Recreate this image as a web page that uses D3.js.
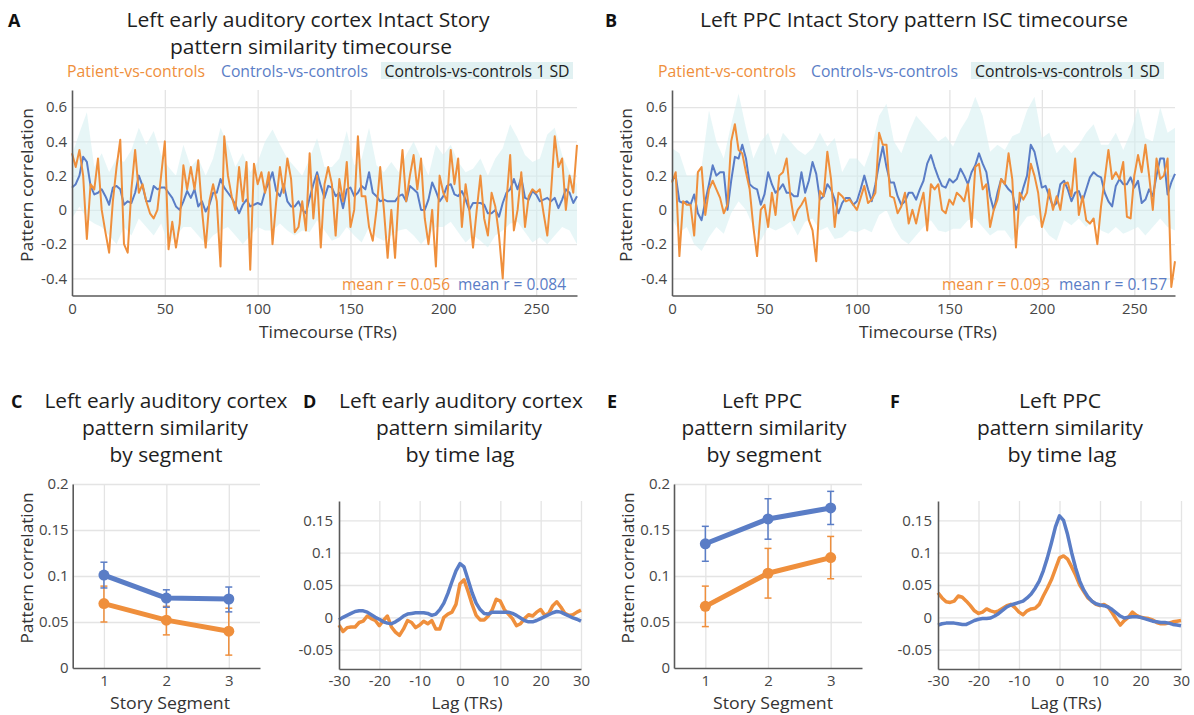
<!DOCTYPE html>
<html><head><meta charset="utf-8">
<script src="https://cdn.jsdelivr.net/npm/d3@7"></script>
<style>body{margin:0;background:#fff}svg{display:block}</style>
</head><body>
<script>
// ---------------- DATA ----------------
// Timecourse panels: lines sampled every 2 TRs, SD band every 4 TRs
const lineTRs = d3.range(0, 273, 2);   // 0..272
const bandTRs = d3.range(0, 273, 4);   // 0..272
const timeTicks = [0, 50, 100, 150, 200, 250];
const corrTicks = [-0.4, -0.2, 0, 0.2, 0.4, 0.6];

const patientA = [
 0.33,0.25,0.35,0.2,-0.17,0.15,0.12,0.3,0.0,-0.13,
 -0.25,0.05,0.25,0.41,-0.2,-0.25,0.12,0.35,0.1,0.15,
 0.05,-0.02,-0.05,0.0,0.2,0.4,-0.23,-0.07,-0.22,-0.08,
 0.26,0.12,0.25,0.12,0.29,0.0,-0.22,0.05,0.15,0.05,
 -0.33,0.43,0.2,0.08,0.0,0.25,0.05,0.28,-0.35,0.27,
 0.15,0.22,0.1,0.22,-0.2,0.05,0.25,0.1,0.3,0.18,
 -0.13,-0.1,0.05,-0.12,0.33,-0.05,0.2,-0.22,0.15,0.25,
 0.15,-0.15,0.18,0.05,0.28,-0.1,0.0,0.43,0.08,0.08,
 -0.1,-0.18,0.0,0.25,0.0,-0.28,0.0,-0.28,0.1,0.35,
 0.05,0.2,0.32,0.12,0.3,-0.05,-0.2,0.0,-0.33,0.2,
 0.1,0.05,0.35,0.15,0.3,-0.1,0.15,0.0,-0.22,0.0,
 0.2,-0.05,-0.15,0.1,0.02,-0.15,-0.4,0.05,0.32,-0.12,
 0.0,0.22,-0.1,0.08,0.12,0.1,0.12,-0.02,-0.15,0.1,
 0.43,0.25,0.3,0.0,0.2,0.1,0.38];
const controlsA = [
 0.13,0.15,0.2,0.31,0.28,0.14,0.09,0.1,0.12,0.08,
 0.03,0.13,0.14,0.12,0.03,0.05,0.04,0.1,0.2,0.14,
 0.05,0.05,0.14,0.12,0.13,0.13,0.1,0.07,0.02,0.0,
 0.05,0.11,0.07,0.12,0.02,0.05,-0.01,0.03,0.1,0.1,
 0.18,0.13,0.1,0.07,0.03,-0.02,0.03,0.06,0.02,0.03,
 0.04,0.03,0.11,0.16,0.22,0.11,0.08,0.15,0.05,0.02,
 0.02,0.05,0.0,-0.02,0.07,0.15,0.22,0.14,0.07,0.14,
 0.13,0.08,0.1,0.01,0.12,0.13,0.08,0.1,0.14,0.12,
 0.22,0.1,0.08,0.05,0.06,0.05,0.05,0.05,0.08,0.09,
 0.05,0.14,0.12,0.1,0.0,0.0,0.06,0.16,0.11,0.05,
 0.08,0.14,0.15,0.09,0.08,0.11,0.06,0.0,0.04,0.04,
 0.04,0.03,-0.02,-0.02,0.0,-0.04,0.04,0.1,0.12,0.18,
 0.12,0.19,0.07,0.06,0.11,0.09,0.05,0.06,0.07,0.05,
 0.07,0.01,0.06,0.12,0.1,0.04,0.08];
const sdUpperA = [
 0.32,0.45,0.57,0.25,0.33,0.22,0.3,0.28,0.35,0.48,
 0.38,0.46,0.32,0.25,0.2,0.38,0.25,0.3,0.2,0.3,
 0.48,0.38,0.25,0.33,0.22,0.28,0.4,0.47,0.38,0.3,
 0.25,0.2,0.3,0.42,0.25,0.25,0.3,0.46,0.26,0.3,
 0.48,0.26,0.22,0.28,0.22,0.32,0.4,0.3,0.2,0.38,
 0.32,0.38,0.28,0.22,0.24,0.3,0.2,0.3,0.36,0.5,
 0.42,0.32,0.28,0.3,0.44,0.48,0.32,0.22,0.15];
const sdLowerA = [
 -0.05,0.02,-0.05,-0.08,-0.1,-0.15,-0.2,-0.1,-0.15,-0.05,
 -0.1,-0.15,-0.08,-0.2,-0.15,-0.1,-0.1,-0.15,-0.2,-0.15,
 -0.12,-0.1,-0.15,-0.2,-0.15,-0.1,-0.12,-0.12,-0.08,-0.12,
 -0.15,-0.12,-0.13,-0.06,-0.12,-0.18,-0.16,-0.1,-0.15,-0.19,
 -0.1,-0.16,-0.18,-0.15,-0.12,-0.11,-0.15,-0.2,-0.15,-0.1,
 -0.1,-0.07,-0.13,-0.19,-0.15,-0.18,-0.22,-0.15,-0.12,-0.08,
 -0.07,-0.13,-0.19,-0.16,-0.2,-0.15,-0.1,-0.12,-0.2];

const patientB = [
 0.16,0.22,-0.27,0.05,0.03,0.03,-0.15,0.22,0.25,-0.03,
 0.12,0.17,0.12,0.07,-0.02,0.03,0.4,0.5,0.35,0.33,
 0.22,0.12,-0.1,-0.27,0.0,0.03,-0.1,0.1,-0.03,0.2,
 0.22,0.3,0.08,-0.06,0.0,0.03,0.07,-0.06,-0.12,-0.3,
 0.11,0.08,0.34,0.18,-0.1,0.1,0.08,0.05,0.06,0.03,
 0.0,0.07,0.14,0.04,0.06,0.1,0.45,0.38,0.38,0.08,
 0.07,-0.02,0.02,0.1,-0.08,0.0,-0.08,0.02,0.1,-0.12,
 0.15,0.12,0.15,0.0,-0.02,0.06,0.03,0.1,0.08,0.05,
 0.15,-0.1,0.25,0.27,0.12,0.15,-0.1,0.0,0.06,0.18,
 0.15,0.33,0.18,-0.22,0.1,0.06,0.1,0.27,0.2,0.1,
 -0.1,-0.02,0.12,0.0,0.08,0.0,0.15,0.16,0.08,0.3,
 -0.03,0.08,-0.06,-0.08,-0.05,-0.2,0.02,0.18,0.35,0.18,
 0.22,0.18,0.28,-0.04,-0.05,0.2,0.32,0.22,0.38,0.2,
 0.0,0.3,0.18,0.2,0.3,-0.45,-0.3];
const controlsB = [
 0.17,0.2,0.05,0.04,0.05,0.03,0.09,-0.02,-0.06,0.05,
 0.15,0.26,0.2,0.22,0.22,0.0,0.17,0.31,0.3,0.38,
 0.3,0.15,0.13,0.12,0.03,0.09,0.22,0.15,0.1,0.12,
 0.15,0.1,0.1,0.08,0.08,0.22,0.1,0.17,0.28,0.21,
 0.06,0.08,0.15,0.12,0.06,-0.02,0.04,0.07,0.07,0.03,
 0.05,0.12,0.2,0.12,0.05,0.15,0.27,0.37,0.25,0.16,
 0.16,0.08,0.03,0.05,0.1,0.1,0.06,0.12,0.17,0.27,
 0.32,0.25,0.19,0.14,0.13,0.18,0.16,0.18,0.24,0.2,
 0.15,0.22,0.26,0.33,0.27,0.22,0.08,0.0,0.1,0.18,
 0.15,0.12,0.1,0.0,0.05,0.13,0.2,0.38,0.34,0.24,
 0.13,0.14,0.08,0.02,0.04,0.15,0.17,0.12,0.05,0.1,
 0.11,0.05,0.12,0.19,0.22,0.2,0.19,0.1,0.05,0.02,
 0.14,0.18,0.15,0.15,0.19,0.13,0.17,0.04,0.06,0.12,
 0.08,0.2,0.3,0.3,0.09,0.16,0.21];
const sdUpperB = [
 0.36,0.33,0.2,0.2,0.25,0.58,0.4,0.3,0.5,0.68,
 0.48,0.3,0.4,0.45,0.32,0.45,0.4,0.35,0.32,0.36,
 0.45,0.37,0.42,0.22,0.3,0.3,0.25,0.37,0.55,0.62,
 0.4,0.33,0.45,0.55,0.5,0.45,0.4,0.43,0.37,0.47,
 0.54,0.66,0.55,0.34,0.38,0.35,0.43,0.45,0.58,0.66,
 0.42,0.45,0.33,0.38,0.33,0.38,0.45,0.5,0.38,0.38,
 0.45,0.35,0.45,0.6,0.42,0.4,0.6,0.45,0.48];
const sdLowerB = [
 -0.05,-0.13,-0.1,-0.2,-0.24,-0.16,-0.1,-0.14,-0.02,0.05,
 0.0,-0.1,-0.18,-0.1,-0.12,-0.1,-0.07,-0.15,-0.07,-0.05,
 -0.12,-0.1,-0.17,-0.16,-0.12,-0.13,-0.11,-0.13,-0.03,0.0,
 -0.1,-0.17,-0.2,-0.15,-0.1,-0.06,-0.12,-0.13,-0.11,-0.11,
 -0.06,-0.05,-0.1,-0.15,-0.12,-0.12,-0.18,-0.1,-0.04,-0.03,
 -0.09,-0.15,-0.18,-0.06,-0.09,-0.05,-0.1,-0.06,-0.12,-0.14,
 -0.1,-0.14,-0.12,-0.1,-0.15,-0.1,-0.05,-0.1,-0.12];

// Segment panels
const segments = [1, 2, 3];
const segCorrTicks = [0, 0.05, 0.1, 0.15, 0.2];
const patientC = [0.070, 0.052, 0.040], patientCLo = [0.050, 0.036, 0.014], patientCHi = [0.089, 0.067, 0.065];
const controlsC = [0.101, 0.076, 0.075], controlsCLo = [0.087, 0.066, 0.061], controlsCHi = [0.115, 0.085, 0.088];
const patientE = [0.067, 0.103, 0.120], patientELo = [0.045, 0.076, 0.097], patientEHi = [0.089, 0.130, 0.143];
const controlsE = [0.135, 0.162, 0.174], controlsELo = [0.116, 0.140, 0.156], controlsEHi = [0.154, 0.184, 0.192];

// Lag panels
const lags = d3.range(-30, 31);
const lagTicks = [-30, -20, -10, 0, 10, 20, 30];
const lagCorrTicks = [-0.05, 0, 0.05, 0.1, 0.15];
const lagPatientD = [
 -0.012,-0.022,-0.016,-0.015,-0.015,-0.008,-0.006,0.002,-0.002,-0.005,
 -0.013,-0.005,0.002,-0.015,-0.023,-0.028,-0.018,-0.005,-0.008,-0.016,
 -0.012,-0.006,-0.01,-0.005,-0.018,-0.018,0.0,0.005,0.008,0.02,
 0.052,0.058,0.04,0.02,0.003,-0.004,-0.004,0.002,0.012,0.028,
 0.025,0.012,0.005,-0.002,-0.013,-0.01,-0.002,0.004,0.002,0.008,
 0.012,0.003,0.006,0.018,0.024,0.016,0.006,0.003,0.004,0.008,
 0.011];
const lagControlsD = [
 -0.004,0.0,0.003,0.006,0.009,0.01,0.01,0.008,0.004,0.0,
 -0.003,-0.007,-0.009,-0.01,-0.007,-0.003,0.002,0.005,0.006,0.007,
 0.007,0.007,0.006,0.003,0.005,0.012,0.022,0.037,0.055,0.072,
 0.083,0.078,0.058,0.038,0.022,0.012,0.006,0.005,0.008,0.008,
 0.008,0.008,0.008,0.006,0.003,-0.001,-0.005,-0.007,-0.007,-0.005,
 -0.002,0.001,0.004,0.007,0.009,0.008,0.005,0.002,-0.001,-0.003,
 -0.006];
const lagPatientF = [
 0.038,0.03,0.024,0.023,0.025,0.033,0.031,0.025,0.018,0.01,
 0.006,0.008,0.013,0.01,0.008,0.01,0.014,0.018,0.02,0.015,
 0.008,0.004,0.01,0.013,0.014,0.02,0.033,0.045,0.058,0.075,
 0.092,0.095,0.09,0.078,0.065,0.05,0.04,0.03,0.025,0.02,
 0.018,0.02,0.016,0.007,-0.003,-0.012,-0.005,0.0,0.008,0.003,
 0.0,-0.001,-0.002,-0.004,-0.008,-0.01,-0.01,-0.009,-0.007,-0.006,
 -0.005];
const lagControlsF = [
 -0.012,-0.01,-0.009,-0.009,-0.009,-0.01,-0.011,-0.011,-0.008,-0.005,
 -0.003,-0.002,-0.002,-0.001,0.002,0.006,0.011,0.016,0.019,0.021,
 0.023,0.025,0.03,0.036,0.045,0.056,0.072,0.092,0.115,0.14,
 0.157,0.15,0.128,0.1,0.076,0.056,0.042,0.032,0.025,0.021,
 0.019,0.018,0.016,0.012,0.007,0.002,-0.001,0.0,0.001,0.001,
 0.0,-0.002,-0.004,-0.006,-0.007,-0.008,-0.008,-0.009,-0.011,-0.012,
 -0.013];

// ---------------- STYLE ----------------
const W = 1194, H = 715;
const FONT = "'Open Sans','Noto Sans',sans-serif";
const ORANGE = "#ef8f3c", BLUE = "#5a7dc6", BAND = "#d4eef1", LEGBOX = "#e1f1f2";
const GRID = "#e4e4e4", AXIS = "#5a5a5a", TXT = "#262626", TICK = "#464646";
const TICK_SIZE = 15, AXT_SIZE = 17;

const svg = d3.select('body').append('svg').attr('width', W).attr('height', H);
svg.append('rect').attr('width', W).attr('height', H).attr('fill', '#fff');

function txt(g, s, x, y, o = {}) {
  const t = g.append('text').attr('x', x).attr('y', y).text(s)
    .attr('font-family', FONT).attr('font-size', o.size || 16)
    .attr('fill', o.fill || TXT).attr('text-anchor', o.anchor || 'start');
  if (o.weight) t.attr('font-weight', o.weight);
  if (o.rot) t.attr('transform', `rotate(-90,${x},${y})`);
  if (o.w) t.attr('textLength', o.w).attr('lengthAdjust', 'spacingAndGlyphs');
  return t;
}
const fmt = v => { const s = +(+v).toFixed(2); return s === 0 ? '0' : String(s); };

function grid(g, x, y, xg, yg) {
  const [y0, y1] = y.range(), [x0, x1] = x.range();
  const st = s => { s.select('.domain').remove(); s.selectAll('line').attr('stroke', GRID).attr('stroke-width', 1.3); };
  g.append('g').attr('transform', `translate(0,${y0})`)
    .call(d3.axisBottom(x).tickValues(xg).tickSize(-(y0 - y1)).tickFormat('')).call(st);
  g.append('g').attr('transform', `translate(${x0},0)`)
    .call(d3.axisLeft(y).tickValues(yg).tickSize(-(x1 - x0)).tickFormat('')).call(st);
}
function axes(g, x, y, xt, yt, xpad, ypad) {
  const [y0] = y.range(), [x0] = x.range();
  const st = s => {
    s.attr('font-family', null).attr('font-size', null);
    s.select('.domain').attr('stroke', AXIS).attr('stroke-width', 1.6);
    s.selectAll('text').attr('font-family', FONT).attr('font-size', TICK_SIZE).attr('fill', TICK);
  };
  g.append('g').attr('transform', `translate(0,${y0})`)
    .call(d3.axisBottom(x).tickValues(xt).tickSize(0).tickSizeOuter(0).tickPadding(xpad).tickFormat(fmt)).call(st);
  g.append('g').attr('transform', `translate(${x0},0)`)
    .call(d3.axisLeft(y).tickValues(yt).tickSize(0).tickSizeOuter(0).tickPadding(ypad).tickFormat(fmt)).call(st);
}

// ---------------- TIMECOURSE PANELS ----------------
function timecourse(c) {
  const g = svg.append('g');
  const x = d3.scaleLinear([0, 272], [c.x0, c.x1]);
  const y = d3.scaleLinear([-0.5, 0.7], [295.5, 90]);
  grid(g, x, y, timeTicks.filter(t => t > 0), corrTicks);
  const band = bandTRs.map((t, i) => ({ t, u: c.up[i], l: c.lo[i] }));
  g.append('path').datum(band).attr('fill', BAND).attr('fill-opacity', 0.55)
    .attr('d', d3.area().x(d => x(d.t)).y0(d => y(d.l)).y1(d => y(d.u)));
  const line = d3.line().x((d, i) => x(lineTRs[i])).y(d => y(d));
  g.append('path').datum(c.blue).attr('fill', 'none').attr('stroke', BLUE).attr('stroke-width', 2)
    .attr('stroke-linejoin', 'round').attr('d', line);
  g.append('path').datum(c.orange).attr('fill', 'none').attr('stroke', ORANGE).attr('stroke-width', 2)
    .attr('stroke-linejoin', 'round').attr('d', line);
  axes(g, x, y, timeTicks, corrTicks, 8, 5);
  txt(g, 'Timecourse (TRs)', c.xTitle, 338, { size: AXT_SIZE, anchor: 'middle', w: 138, fill: '#333' });
  txt(g, 'Pattern correlation', c.yTitleX, 185, { size: AXT_SIZE, anchor: 'middle', rot: true, w: 154, fill: '#333' });
  txt(g, c.meanO, c.meanOx, 290, { size: 16, anchor: 'end', fill: ORANGE, w: 108 });
  txt(g, c.meanB, c.meanBx, 290, { size: 16, anchor: 'end', fill: BLUE, w: 108 });
  // legend
  txt(g, 'Patient-vs-controls', c.legP, 77, { size: 16.5, fill: ORANGE, w: 138 });
  txt(g, 'Controls-vs-controls', c.legC, 77, { size: 16.5, fill: BLUE, w: 147 });
  g.append('rect').attr('x', c.box).attr('y', 62).attr('width', c.boxW).attr('height', 17).attr('fill', LEGBOX);
  txt(g, 'Controls-vs-controls 1 SD', c.box + c.boxW / 2, 77, { size: 16.5, anchor: 'middle', fill: '#222', w: 185 });
}

timecourse({ x0: 72, x1: 577, orange: patientA, blue: controlsA, up: sdUpperA, lo: sdLowerA,
  xTitle: 328, yTitleX: 33, meanO: 'mean r = 0.056', meanOx: 450, meanB: 'mean r = 0.084', meanBx: 566,
  legP: 67, legC: 221, box: 381, boxW: 192 });
timecourse({ x0: 672, x1: 1175, orange: patientB, blue: controlsB, up: sdUpperB, lo: sdLowerB,
  xTitle: 928, yTitleX: 632, meanO: 'mean r = 0.093', meanOx: 1050, meanB: 'mean r = 0.157', meanBx: 1167,
  legP: 658, legC: 811, box: 971, boxW: 193 });

// ---------------- SEGMENT PANELS ----------------
function segPanel(c) {
  const g = svg.append('g');
  const x = d3.scaleLinear([0.5, 3.5], [c.x0, c.x1]);
  const y = d3.scaleLinear([0, 0.2], [668, 484]);
  grid(g, x, y, segments, segCorrTicks.filter(v => v > 0));
  for (const s of c.series) {
    const pts = segments.map((k, i) => ({ k, v: s.v[i], lo: s.lo[i], hi: s.hi[i] }));
    const eb = g.append('g').attr('stroke', s.color).attr('stroke-width', 1.5);
    eb.selectAll('.eb').data(pts).join('line').attr('x1', d => x(d.k)).attr('x2', d => x(d.k))
      .attr('y1', d => y(d.lo)).attr('y2', d => y(d.hi));
    eb.selectAll('.ct').data(pts).join('line').attr('x1', d => x(d.k) - 3.5).attr('x2', d => x(d.k) + 3.5)
      .attr('y1', d => y(d.hi)).attr('y2', d => y(d.hi));
    eb.selectAll('.cb').data(pts).join('line').attr('x1', d => x(d.k) - 3.5).attr('x2', d => x(d.k) + 3.5)
      .attr('y1', d => y(d.lo)).attr('y2', d => y(d.lo));
    g.append('path').datum(pts).attr('fill', 'none').attr('stroke', s.color).attr('stroke-width', 5)
      .attr('stroke-linejoin', 'round').attr('d', d3.line().x(d => x(d.k)).y(d => y(d.v)));
    g.selectAll(null).data(pts).join('circle').attr('cx', d => x(d.k)).attr('cy', d => y(d.v))
      .attr('r', 5.5).attr('fill', s.color);
  }
  axes(g, x, y, segments, segCorrTicks, 7, 4);
  txt(g, 'Story Segment', c.xTitle, 709, { size: AXT_SIZE, anchor: 'middle', w: 120, fill: '#333' });
  txt(g, 'Pattern correlation', c.yTitleX, 568, { size: AXT_SIZE, anchor: 'middle', rot: true, w: 151, fill: '#333' });
}
segPanel({ x0: 72.7, x1: 260, xTitle: 170, yTitleX: 33, series: [
  { v: patientC, lo: patientCLo, hi: patientCHi, color: ORANGE },
  { v: controlsC, lo: controlsCLo, hi: controlsCHi, color: BLUE }] });
segPanel({ x0: 674, x1: 862, xTitle: 773, yTitleX: 634, series: [
  { v: patientE, lo: patientELo, hi: patientEHi, color: ORANGE },
  { v: controlsE, lo: controlsELo, hi: controlsEHi, color: BLUE }] });

// ---------------- LAG PANELS ----------------
function lagPanel(c) {
  const g = svg.append('g');
  const x = d3.scaleLinear([-30, 30], [c.x0, c.x1]);
  const y = d3.scaleLinear([-0.08, 0.18], [669, 501]);
  grid(g, x, y, lagTicks.filter(v => v > -30), lagCorrTicks);
  const line = d3.line().x((d, i) => x(lags[i])).y(d => y(d));
  g.append('path').datum(c.orange).attr('fill', 'none').attr('stroke', ORANGE).attr('stroke-width', 3.5)
    .attr('stroke-linejoin', 'round').attr('d', line);
  g.append('path').datum(c.blue).attr('fill', 'none').attr('stroke', BLUE).attr('stroke-width', 3.5)
    .attr('stroke-linejoin', 'round').attr('d', line);
  axes(g, x, y, lagTicks, lagCorrTicks, 6, 6);
  txt(g, 'Lag (TRs)', c.xTitle, 709, { size: AXT_SIZE, anchor: 'middle', w: 71, fill: '#333' });
}
lagPanel({ x0: 339, x1: 581, orange: lagPatientD, blue: lagControlsD, xTitle: 467 });
lagPanel({ x0: 938, x1: 1181, orange: lagPatientF, blue: lagControlsF, xTitle: 1066 });

// ---------------- TITLES & PANEL LETTERS ----------------
const T = svg.append('g');
const titles = [
  ['Left early auditory cortex Intact Story', 308, 27, 363],
  ['pattern similarity timecourse', 311, 54, 282],
  ['Left PPC Intact Story pattern ISC timecourse', 914, 27, 428],
  ['Left early auditory cortex', 166, 408, 243], ['pattern similarity', 165, 435, 166], ['by segment', 166, 462, 113],
  ['Left early auditory cortex', 461, 408, 244], ['pattern similarity', 459, 435, 166], ['by time lag', 460, 462, 109],
  ['Left PPC', 762, 408, 80], ['pattern similarity', 764, 435, 165], ['by segment', 764, 462, 115],
  ['Left PPC', 1060, 408, 82], ['pattern similarity', 1060, 435, 166], ['by time lag', 1062, 462, 109]
];
titles.forEach(([s, x, y, w]) => txt(T, s, x, y, { size: 20, anchor: 'middle', w, fill: '#1e1e1e' }));
[['A', 8, 27], ['B', 605, 27], ['C', 11, 408], ['D', 303, 408], ['E', 607, 408], ['F', 890, 408]]
  .forEach(([s, x, y]) => txt(T, s, x, y, { size: 18, weight: 700, fill: '#111' }));
</script>
</body></html>
